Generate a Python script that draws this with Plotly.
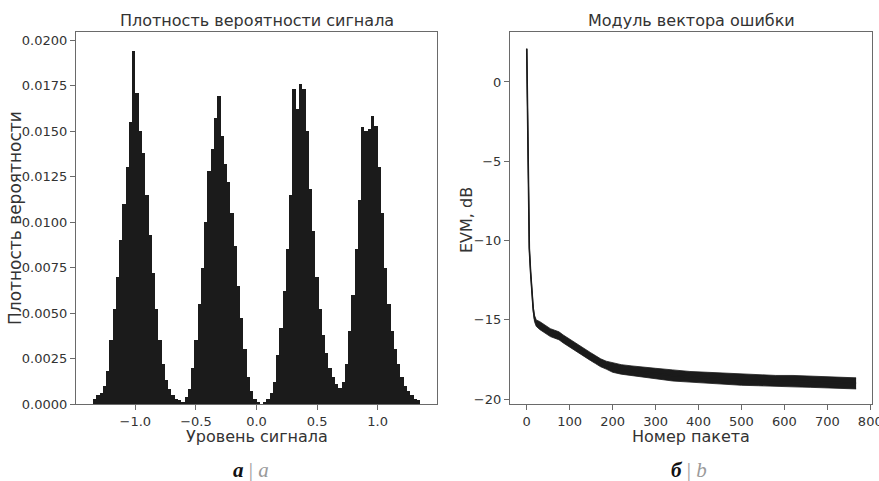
import plotly.graph_objects as go

# ---------------- data ----------------
# Histogram: probability per bin, 100 bins over [-1.35, 1.35]
hist_left_edge = -1.35
hist_bin_width = 0.027
hist_values = [
    0.0003, 0.0005, 0.0006, 0.0010, 0.0018, 0.0035, 0.0052, 0.0070, 0.0090, 0.0110,
    0.0130, 0.0155, 0.0194, 0.0171, 0.0150, 0.0138, 0.0115, 0.0093, 0.0072, 0.0052,
    0.0035, 0.0022, 0.0013, 0.0008, 0.0005, 0.0003, 0.0002, 0.0001, 0.0004, 0.0008,
    0.0020, 0.0035, 0.0055, 0.0075, 0.0100, 0.0128, 0.0140, 0.0157, 0.0169, 0.0147,
    0.0132, 0.0122, 0.0105, 0.0087, 0.0065, 0.0047, 0.0030, 0.0015, 0.0007, 0.0003,
    0.0001, 0.0000, 0.0001, 0.0003, 0.0006, 0.0012, 0.0027, 0.0042, 0.0062, 0.0085,
    0.0115, 0.0173, 0.0162, 0.0176, 0.0173, 0.0150, 0.0118, 0.0095, 0.0070, 0.0052,
    0.0038, 0.0028, 0.0020, 0.0015, 0.0011, 0.0009, 0.0012, 0.0022, 0.0040, 0.0060,
    0.0085, 0.0112, 0.0152, 0.0150, 0.0151, 0.0158, 0.0153, 0.0130, 0.0105, 0.0075,
    0.0055, 0.0040, 0.0030, 0.0022, 0.0015, 0.0010, 0.0007, 0.0005, 0.0003, 0.0002,
]
hist_centers = [hist_left_edge + hist_bin_width * (i + 0.5) for i in range(len(hist_values))]

# EVM curve (dB) vs packet number, with noise envelope
packets = [0, 2, 4, 6, 9, 12, 15, 18, 22, 30, 42, 55, 65, 75, 85, 96, 110, 122, 135, 148,
           160, 172, 185, 200, 220, 245, 270, 300, 340, 380, 420, 460, 500, 540, 580, 620,
           660, 700, 740, 767]
evm_mid = [2.1, -3.0, -8.0, -10.5, -12.0, -13.3, -14.3, -14.9, -15.2, -15.35, -15.55, -15.8,
           -15.9, -16.0, -16.2, -16.4, -16.6, -16.85, -17.1, -17.3, -17.5, -17.7, -17.85, -18.0,
           -18.12, -18.2, -18.28, -18.38, -18.5, -18.58, -18.65, -18.7, -18.77, -18.8, -18.85,
           -18.87, -18.9, -18.93, -18.97, -19.0]
evm_upper = [2.1, -2.9, -7.9, -10.4, -11.9, -13.2, -14.15, -14.7, -15.0, -15.1, -15.3, -15.55,
             -15.65, -15.75, -15.95, -16.15, -16.35, -16.6, -16.85, -17.05, -17.25, -17.45, -17.6,
             -17.7, -17.82, -17.9, -17.98, -18.05, -18.15, -18.25, -18.3, -18.35, -18.42, -18.45,
             -18.5, -18.5, -18.55, -18.58, -18.62, -18.65]
evm_lower = [2.1, -3.1, -8.1, -10.6, -12.1, -13.4, -14.45, -15.1, -15.4, -15.6, -15.8, -16.05,
             -16.15, -16.25, -16.45, -16.65, -16.85, -17.1, -17.35, -17.55, -17.75, -17.95, -18.1,
             -18.3, -18.42, -18.5, -18.58, -18.7, -18.85, -18.92, -19.0, -19.05, -19.12, -19.15,
             -19.2, -19.22, -19.25, -19.28, -19.32, -19.35]

hist_yticks = [0.0, 0.0025, 0.005, 0.0075, 0.01, 0.0125, 0.015, 0.0175, 0.02]
hist_xticks = [-1.0, -0.5, 0.0, 0.5, 1.0]
hist_xticklabels = ["\u22121.0", "\u22120.5", "0.0", "0.5", "1.0"]
evm_yticks = [0, -5, -10, -15, -20]
evm_xticks = [0, 100, 200, 300, 400, 500, 600, 700, 800]

# ---------------- figure ----------------
W, H = 879, 481
FONT = "DejaVu Sans"
AX = "#6a6a6a"
TXT = "#333333"
INK = "#1b1b1b"

def px(x):
    return x / W

def py(y):
    return 1 - y / H

fig = go.Figure()

fig.add_trace(go.Bar(
    x=hist_centers, y=hist_values, width=hist_bin_width,
    marker=dict(color=INK, line=dict(width=0)),
    xaxis="x", yaxis="y", showlegend=False, hoverinfo="skip",
))

fig.add_trace(go.Scatter(
    x=packets, y=evm_upper, mode="lines", line=dict(color=INK, width=0.8),
    xaxis="x2", yaxis="y2", showlegend=False, hoverinfo="skip",
))
fig.add_trace(go.Scatter(
    x=packets, y=evm_lower, mode="lines", line=dict(color=INK, width=0.8),
    fill="tonexty", fillcolor=INK,
    xaxis="x2", yaxis="y2", showlegend=False, hoverinfo="skip",
))
fig.add_trace(go.Scatter(
    x=packets, y=evm_mid, mode="lines", line=dict(color=INK, width=1.6),
    xaxis="x2", yaxis="y2", showlegend=False, hoverinfo="skip",
))

axis_common = dict(
    showline=True, mirror=True, linecolor=AX, linewidth=1.2,
    ticks="outside", ticklen=5, tickwidth=1, tickcolor=AX,
    showgrid=False, zeroline=False, automargin=False,
    ticklabeloverflow="allow",
    tickfont=dict(family=FONT, size=13, color=TXT),
)

ydom = [py(404), py(32)]

fig.update_layout(
    width=W, height=H,
    margin=dict(l=0, r=0, t=0, b=0),
    paper_bgcolor="white", plot_bgcolor="white",
    bargap=0,
    xaxis=dict(domain=[px(76), px(437)], range=[-1.49, 1.49],
               tickvals=hist_xticks, ticktext=hist_xticklabels,
               anchor="y", **axis_common),
    yaxis=dict(domain=ydom, range=[0, 0.02044], tickvals=hist_yticks,
               tickformat=".4f", anchor="x", **axis_common),
    xaxis2=dict(domain=[px(510), px(872)], range=[-39, 804], tickvals=evm_xticks,
                anchor="y2", **axis_common),
    yaxis2=dict(domain=ydom, range=[-20.3, 3.15], tickvals=evm_yticks,
                anchor="x2", **axis_common),
)

ann = []
def label(text, x, y, size, angle=0, color=TXT, family=FONT):
    ann.append(dict(text=text, x=px(x), y=py(y), xref="paper", yref="paper",
                    showarrow=False, textangle=angle, xanchor="center", yanchor="middle",
                    font=dict(family=family, size=size, color=color)))

label("Плотность вероятности сигнала", 257, 21, 16)
label("Модуль вектора ошибки", 691, 21, 16)
label("Уровень сигнала", 257, 436, 16)
label("Номер пакета", 691, 436, 16)
label("Плотность вероятности", 15, 218, 17, angle=-90)
label("EVM, dB", 466, 220, 16, angle=-90)
label("<b><i>а</i></b> <span style='color:#9a9a9a'>| <i>a</i></span>", 251, 470, 21,
      color="#111111", family="Liberation Serif")
label("<b><i>б</i></b> <span style='color:#9a9a9a'>| <i>b</i></span>", 689, 470, 21,
      color="#111111", family="Liberation Serif")

fig.update_layout(annotations=ann)

fig.write_html(
    "out.html",
    config={"responsive": False, "displayModeBar": False},
    post_script="document.body.style.margin='0';document.body.style.overflow='hidden';",
)
